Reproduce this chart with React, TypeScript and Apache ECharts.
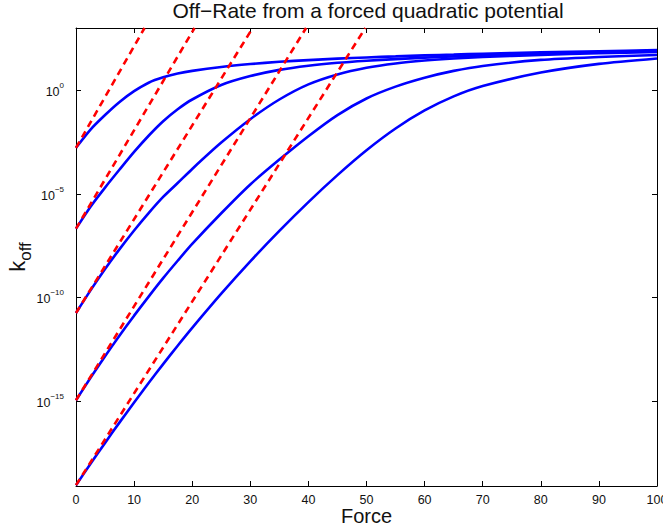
import React, { useEffect, useRef } from 'react';
import * as echarts from 'echarts';

// Force values (x) at which the blue curves were read
const forceGrid = [0, 2.5, 5, 7.5, 10, 12.5, 15, 17.5, 20, 25, 30, 35, 40, 45, 50, 55, 60, 65, 70, 80, 90, 100];

// log10(k_off) of the five blue curves
const curve1 = [-2.78, -1.9, -1.2, -0.57, -0.05, 0.36, 0.62, 0.8, 0.93, 1.12, 1.26, 1.37, 1.45, 1.52, 1.58, 1.63, 1.68, 1.72, 1.76, 1.83, 1.88, 1.93];
const curve2 = [-6.68, -5.62, -4.7, -3.83, -2.98, -2.2, -1.5, -0.92, -0.45, 0.25, 0.68, 0.98, 1.18, 1.32, 1.42, 1.5, 1.57, 1.63, 1.68, 1.77, 1.84, 1.9];
const curve3 = [-10.75, -9.66, -8.63, -7.67, -6.77, -5.93, -5.15, -4.48, -3.8, -2.53, -1.4, -0.45, 0.28, 0.76, 1.08, 1.29, 1.43, 1.53, 1.6, 1.7, 1.78, 1.84];
const curve4 = [-14.96, -13.88, -12.84, -11.84, -10.88, -9.96, -9.07, -8.23, -7.42, -5.94, -4.55, -3.35, -2.22, -1.2, -0.4, 0.17, 0.6, 0.93, 1.17, 1.46, 1.6, 1.7];
const curve5 = [-19.06, -18.03, -17.02, -16.03, -15.07, -14.13, -13.22, -12.33, -11.47, -9.82, -8.26, -6.79, -5.4, -4.1, -2.9, -1.85, -0.98, -0.3, 0.2, 0.85, 1.27, 1.53];

// Red dashed (Bell) lines: start value at F = 0 and the force where each leaves the top of the plot
const bellStart = [-2.78, -6.68, -10.75, -14.96, -19.06];
const bellTopForce = [11.8, 20.4, 30.4, 39.6, 49.8];

// Axis settings
const yLogMin = -19.1;
const yLogMax = 3;
const yTickExponents = [-15, -10, -5, 0];
const xTickStep = 10;

const FONT = '"Liberation Sans", Arial, Helvetica, sans-serif';
const TXT = '#111';

export default function App() {
  const ref = useRef<HTMLDivElement>(null);

  useEffect(() => {
    if (!ref.current) return;
    const chart = echarts.init(ref.current, null, { renderer: 'svg' });

    const blue = [curve1, curve2, curve3, curve4, curve5].map((c, i) => ({
      name: 'k' + (i + 1),
      type: 'line',
      xAxisIndex: 0,
      yAxisIndex: 0,
      data: forceGrid.map((f, j) => [f, c[j]]),
      showSymbol: false,
      smooth: 0.25,
      lineStyle: { color: '#0000ff', width: 2.6 },
      z: 2,
    }));

    const red = bellStart.map((s, i) => ({
      name: 'bell' + (i + 1),
      type: 'line',
      xAxisIndex: 0,
      yAxisIndex: 0,
      data: [[0, s], [bellTopForce[i], yLogMax]],
      showSymbol: false,
      lineStyle: { color: '#ff0000', width: 2.6, type: [7, 5] },
      z: 3,
    }));

    const yLabelFmt = (v: number) => {
      const e = v === 0 ? '0' : '\u2212' + String(-v);
      return '{b|10}{s|' + e + '}';
    };

    const commonX = {
      type: 'value',
      min: 0,
      max: 100,
      interval: xTickStep,
      axisLine: { show: true, onZero: false, lineStyle: { color: '#000', width: 1 } },
      axisTick: { show: true, inside: true, length: 5, lineStyle: { color: '#000' } },
      splitLine: { show: false },
    };
    const commonY = {
      type: 'value',
      min: yLogMin,
      max: yLogMax,
      axisLine: { show: true, onZero: false, lineStyle: { color: '#000', width: 1 } },
      axisTick: { show: true, inside: true, length: 5, customValues: yTickExponents, lineStyle: { color: '#000' } },
      splitLine: { show: false },
    };

    chart.setOption({
      animation: false,
      backgroundColor: '#fff',
      title: {
        text: 'Off\u2212Rate from a forced quadratic potential',
        left: 368,
        top: 0,
        padding: 0,
        textAlign: 'center',
        textStyle: { fontFamily: FONT, fontSize: 21, fontWeight: 'normal', color: TXT },
      },
      grid: { left: 76, top: 28, width: 581, height: 458, containLabel: false, outerBoundsMode: 'none' },
      xAxis: [
        {
          ...commonX,
          position: 'bottom',
          name: 'Force',
          nameLocation: 'middle',
          nameGap: 20,
          nameMoveOverlap: false,
          nameTextStyle: { fontFamily: FONT, fontSize: 20, color: TXT, verticalAlign: 'top' },
          axisLabel: { show: true, margin: 7, fontFamily: FONT, fontSize: 12.5, color: TXT, showMaxLabel: true, showMinLabel: true },
        },
        {
          ...commonX,
          position: 'top',
          axisLabel: { show: false },
        },
      ],
      yAxis: [
        {
          ...commonY,
          position: 'left',
          name: '{k|k}{o|off}',
          nameLocation: 'middle',
          nameRotate: 90,
          nameGap: 42,
          nameMoveOverlap: false,
          nameTextStyle: {
            fontFamily: FONT,
            color: TXT,
            rich: {
              k: { fontFamily: FONT, fontSize: 22, color: TXT, lineHeight: 34 },
              o: { fontFamily: FONT, fontSize: 17, color: TXT, verticalAlign: 'bottom', lineHeight: 34 },
            },
          },
          axisLabel: {
            show: true,
            margin: 12,
            customValues: yTickExponents,
            formatter: yLabelFmt,
            rich: {
              b: { fontFamily: FONT, fontSize: 12.5, color: TXT, lineHeight: 17, verticalAlign: 'bottom' },
              s: { fontFamily: FONT, fontSize: 8, color: TXT, verticalAlign: 'top' },
            },
          },
        },
        {
          ...commonY,
          position: 'right',
          axisLabel: { show: false },
        },
      ],
      series: [...blue, ...red],
    });

    return () => chart.dispose();
  }, []);

  return (
    <div
      ref={ref}
      style={{ position: 'fixed', left: 0, top: 0, width: 663, height: 531, background: '#fff' }}
    />
  );
}
